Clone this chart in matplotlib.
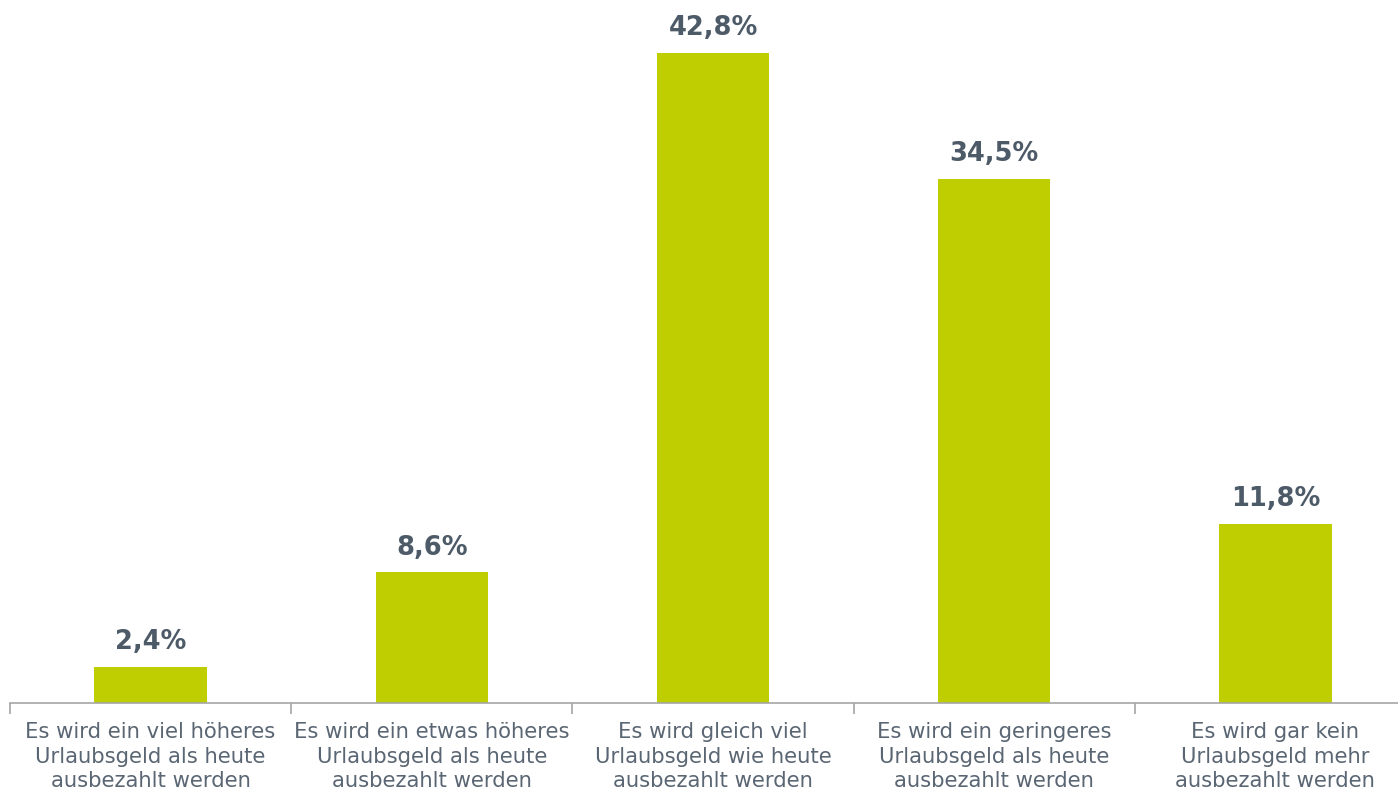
import matplotlib
matplotlib.use("Agg")
import matplotlib.pyplot as plt

# Umfrage: Erwartung zum Urlaubsgeld
categories = [
    "Es wird ein viel höheres\nUrlaubsgeld als heute\nausbezahlt werden",
    "Es wird ein etwas höheres\nUrlaubsgeld als heute\nausbezahlt werden",
    "Es wird gleich viel\nUrlaubsgeld wie heute\nausbezahlt werden",
    "Es wird ein geringeres\nUrlaubsgeld als heute\nausbezahlt werden",
    "Es wird gar kein\nUrlaubsgeld mehr\nausbezahlt werden",
]
values = [2.4, 8.6, 42.8, 34.5, 11.8]
value_labels = ["2,4%", "8,6%", "42,8%", "34,5%", "11,8%"]

bar_color = "#BFCE00"
label_color = "#4D5A68"
tick_color = "#5A6673"

fig = plt.figure(figsize=(13.98, 7.94), dpi=100)
W, H = 1398, 794
# axes extends past the right edge like in the original
ax = fig.add_axes([10 / W, 91 / H, 1406 / W, 699 / H])

x = list(range(len(values)))
ax.bar(x, values, width=0.4, color=bar_color)
for xi, v, lab in zip(x, values, value_labels):
    ax.text(xi, v + 0.75, lab, ha="center", va="bottom", fontsize=18.5,
            fontweight="bold", color=label_color)

ax.set_xlim(-0.5, 4.5)
ax.set_ylim(0, 46)

for s in ["top", "right", "left"]:
    ax.spines[s].set_visible(False)
ax.spines["bottom"].set_color("#A6A6A6")
ax.spines["bottom"].set_linewidth(1.2)
ax.set_yticks([])

# boundary ticks between categories, labels centred
ax.set_xticks([i - 0.5 for i in range(len(values) + 1)])
ax.set_xticklabels([])
ax.tick_params(axis="x", which="major", direction="out", length=8,
               color="#A6A6A6", width=1.2)
ax.set_xticks(x, minor=True)
ax.set_xticklabels(categories, minor=True, fontsize=15.2, color=tick_color,
                   linespacing=1.26)
ax.tick_params(axis="x", which="minor", length=0, pad=14)

fig.savefig("out.png", dpi=100)
